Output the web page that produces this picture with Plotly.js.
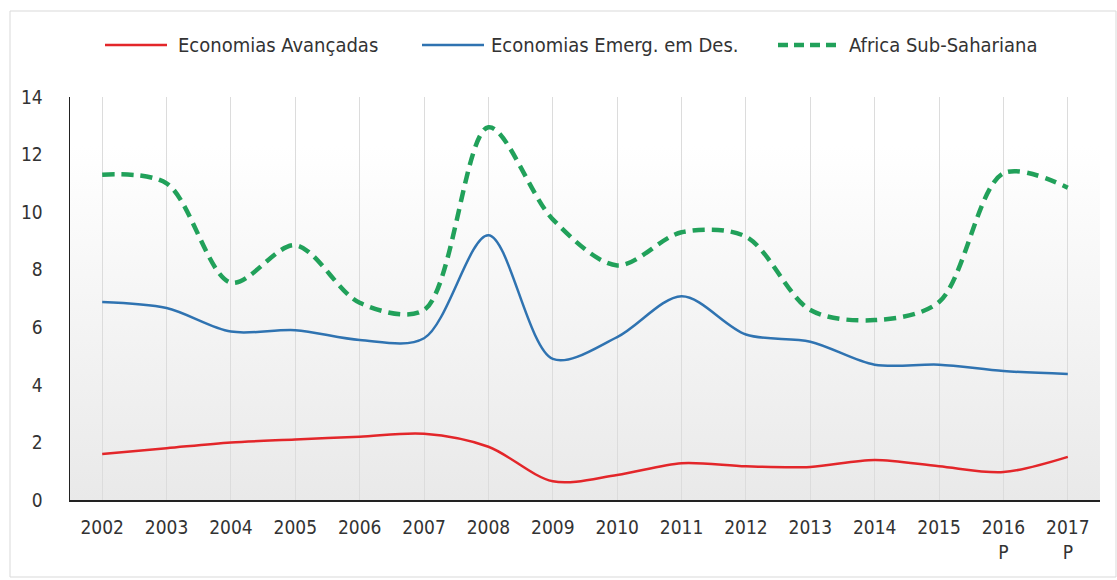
<!DOCTYPE html>
<html><head><meta charset="utf-8">
<script src="https://cdn.plot.ly/plotly-3.0.1.min.js"></script>
<style>html,body{margin:0;padding:0;background:#fff}#c{width:1117px;height:580px}</style>
</head><body><div id="c"></div>
<script>
const years = ['2002','2003','2004','2005','2006','2007','2008','2009','2010','2011','2012','2013','2014','2015','2016','2017'];
const yearLabels = ['2002','2003','2004','2005','2006','2007','2008','2009','2010','2011','2012','2013','2014','2015','2016<br>P','2017<br>P'];
const avancadas = [1.6,1.8,2.0,2.1,2.2,2.3,1.85,0.65,0.87,1.28,1.17,1.15,1.39,1.17,0.97,1.5];
const emergentes = [6.88,6.67,5.85,5.9,5.56,5.62,9.2,4.9,5.66,7.08,5.75,5.5,4.7,4.7,4.48,4.38];
const africa = [11.3,11.0,7.55,8.85,6.85,6.6,12.95,9.75,8.15,9.3,9.15,6.6,6.25,6.88,11.35,10.85];
const names = ['Economias Avançadas','Economias Emerg. em Des.','Africa Sub-Sahariana'];
const colors = ['#e3262a','#2f73b1','#21a15a'];

const FONT = '"Liberation Sans Narrow", "DejaVu Sans Condensed", "Open Sans", sans-serif';
const idx = years.map((_, i) => i);

const traces = [
  {x: idx, y: avancadas, name: names[0], mode: 'lines', line: {color: colors[0], width: 2.5, shape: 'spline', smoothing: 0.9}},
  {x: idx, y: emergentes, name: names[1], mode: 'lines', line: {color: colors[1], width: 2.5, shape: 'spline', smoothing: 0.9}},
  {x: idx, y: africa, name: names[2], mode: 'lines', line: {color: colors[2], width: 4.5, dash: '12px,7px', shape: 'spline', smoothing: 0.9}}
];

const grad = "data:image/svg+xml;utf8," + encodeURIComponent(
  '<svg xmlns="http://www.w3.org/2000/svg" width="100" height="100" preserveAspectRatio="none">' +
  '<defs><linearGradient id="g" x1="0" y1="0" x2="0" y2="1">' +
  '<stop offset="0" stop-color="#ffffff"/><stop offset="0.12" stop-color="#ffffff"/><stop offset="1" stop-color="#e9e9e9"/>' +
  '</linearGradient></defs><rect width="100" height="100" fill="url(#g)"/></svg>');

// legend drawn as decorations (paper coords)
const px = v => (v - 70) / 1030;
const py = v => (500 - v) / 403;
const legY = 45;
const legItems = [
  {x0: 105, x1: 167, tx: 176, dash: 'solid', w: 2.5},
  {x0: 422, x1: 484, tx: 489, dash: 'solid', w: 2.5},
  {x0: 778, x1: 840, tx: 847, dash: '10px,6px', w: 4.5}
];
const legShapes = legItems.map((it, i) => ({type: 'line', xref: 'paper', yref: 'paper',
  x0: px(it.x0), x1: px(it.x1), y0: py(legY), y1: py(legY),
  line: {color: colors[i], width: it.w, dash: it.dash}}));
const legAnn = legItems.map((it, i) => ({xref: 'paper', yref: 'paper', x: px(it.tx), y: py(legY),
  xanchor: 'left', yanchor: 'middle', showarrow: false, text: names[i],
  font: {family: FONT, size: 20, color: '#333'}}));

const layout = {
  width: 1117, height: 580,
  margin: {l: 70, r: 17, t: 97, b: 80},
  paper_bgcolor: '#ffffff',
  plot_bgcolor: 'rgba(0,0,0,0)',
  font: {family: FONT, size: 19, color: '#333333'},
  showlegend: false,
  xaxis: {
    range: [-0.5, 15.5], tickmode: 'array', tickvals: idx, ticktext: yearLabels,
    showgrid: true, gridcolor: '#dcdcdc', gridwidth: 1,
    showline: true, linecolor: '#222', linewidth: 1.5,
    ticks: '', ticklabelstandoff: 10, zeroline: false, fixedrange: true,
    tickfont: {family: FONT, size: 19, color: '#333'}
  },
  yaxis: {
    range: [0, 14], tickvals: [0,2,4,6,8,10,12,14],
    showgrid: false, showline: true, linecolor: '#222', linewidth: 1.5,
    ticks: '', ticklabelstandoff: 22, zeroline: false, fixedrange: true,
    tickfont: {family: FONT, size: 19, color: '#333'}
  },
  images: [{source: grad, xref: 'paper', yref: 'paper', x: 0, y: 1, sizex: 1, sizey: 1,
            xanchor: 'left', yanchor: 'top', sizing: 'stretch', layer: 'below'}],
  shapes: [{type: 'rect', xref: 'paper', yref: 'paper',
            x0: px(10), x1: px(1116), y0: py(577), y1: py(11),
            line: {color: '#d9d9d9', width: 1}, fillcolor: 'rgba(0,0,0,0)', layer: 'below'}].concat(legShapes),
  annotations: legAnn
};

Plotly.newPlot('c', traces, layout, {displayModeBar: false, staticPlot: true});
</script></body></html>
